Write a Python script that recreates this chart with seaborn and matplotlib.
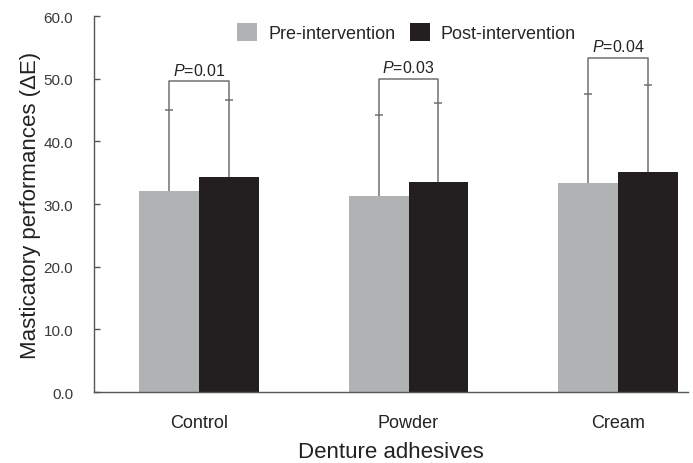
import pandas as pd
import matplotlib.pyplot as plt
import seaborn as sns

groups = ["Control", "Powder", "Cream"]
phases = ["Pre-intervention", "Post-intervention"]
pre_mean = [32.1, 31.3, 33.4]
post_mean = [34.3, 33.5, 35.2]
pre_sd = [13.0, 13.0, 14.1]
post_sd = [12.3, 12.7, 13.8]
bracket_y = [49.6, 50.0, 53.3]
p_labels = ["0.01", "0.03", "0.04"]

df = pd.DataFrame({
    "group": groups * 2,
    "phase": [phases[0]] * 3 + [phases[1]] * 3,
    "value": pre_mean + post_mean,
    "sd": pre_sd + post_sd,
})

sns.set_style("ticks")
plt.rcParams["font.family"] = ["Liberation Sans", "DejaVu Sans"]
plt.rcParams["mathtext.fontset"] = "custom"
plt.rcParams["mathtext.it"] = "Liberation Sans:italic"
plt.rcParams["mathtext.rm"] = "Liberation Sans"

fig, ax = plt.subplots(figsize=(6.93, 4.64), dpi=100)
fig.subplots_adjust(left=0.1356, right=0.993, bottom=0.153, top=0.963)

colors = ["#b1b2b4", "#231f20"]
sns.barplot(data=df, x="group", y="value", hue="phase", hue_order=phases,
            order=groups, palette=colors, errorbar=None, width=0.57,
            saturation=1, ax=ax, linewidth=0)

err_col = "#707070"
centers = {}
for cont, sds in zip(ax.containers, [pre_sd, post_sd]):
    for i, (bar, sd) in enumerate(zip(cont, sds)):
        x = bar.get_x() + bar.get_width() / 2
        h = bar.get_height()
        _, caps, _ = ax.errorbar(x, h, yerr=[[0], [sd]], color=err_col, capsize=3,
                                 elinewidth=1.1, capthick=1.1, zorder=1)
        caps[0].set_visible(False)
        centers.setdefault(i, []).append((x, h + sd))

for i in range(len(groups)):
    (x1, t1), (x2, t2) = centers[i]
    yb = bracket_y[i]
    ax.plot([x1, x1, x2, x2], [t1, yb, yb, t2], color=err_col, lw=1.1, zorder=1)
    ax.text((x1 + x2) / 2, yb + 0.6, "$\\mathit{P}$=" + p_labels[i], ha="center",
            va="bottom", fontsize=11.5, color="#222222")

ax.set_ylim(0, 60)
ax.set_xlim(-0.501, 2.334)
ax.set_yticks(range(0, 61, 10))
ax.set_yticklabels([f"{v:.1f}" for v in range(0, 61, 10)], fontsize=11, color="#3a3a3a")
ax.tick_params(axis="x", length=0, labelsize=13, pad=16, labelcolor="#222222")
ax.tick_params(axis="y", direction="in", length=4.5, width=1, color="#555555", pad=15)
for s in ["top", "right"]:
    ax.spines[s].set_visible(False)
for s in ["left", "bottom"]:
    ax.spines[s].set_color("#555555")
    ax.spines[s].set_linewidth(1)

ax.set_xlabel("Denture adhesives", fontsize=16, labelpad=7, color="#222222")
ax.set_ylabel("Masticatory performances (ΔE)", fontsize=16, labelpad=2, color="#222222")

ax.legend(loc="upper center", bbox_to_anchor=(0.526, 1.0), ncol=2, frameon=False,
          fontsize=13, handlelength=1.1, handleheight=1.1, handletextpad=0.6,
          columnspacing=0.8, borderaxespad=0)

fig.savefig("out.png", dpi=100)
